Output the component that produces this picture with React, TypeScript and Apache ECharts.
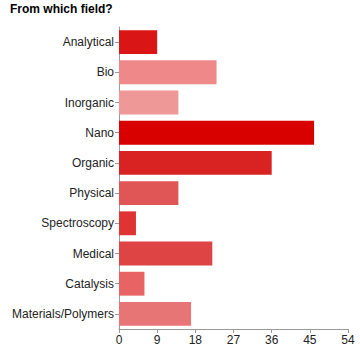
import React, { useEffect, useRef } from "react";
import * as echarts from "echarts";

const categories = ["Analytical", "Bio", "Inorganic", "Nano", "Organic", "Physical", "Spectroscopy", "Medical", "Catalysis", "Materials/Polymers"];
const values = [9, 23, 14, 46, 36, 14, 4, 22, 6, 17];
const colors = ["#d91515", "#ef8888", "#ef9898", "#d90000", "#d92323", "#e05656", "#e03333", "#df4444", "#e86464", "#e87575"];
const xTicks = [0, 9, 18, 27, 36, 45, 54];

export default function App() {
  const ref = useRef<HTMLDivElement>(null);
  useEffect(() => {
    const chart = echarts.init(ref.current!, null, { renderer: "svg" });
    chart.setOption({
      animation: false,
      title: {
        text: "From which field?",
        left: 10,
        top: 3,
        padding: 0,
        textStyle: { fontFamily: "Liberation Sans, Arial", fontSize: 12, fontWeight: "bold", color: "#000" },
      },
      grid: { left: 119, right: 12, top: 27, bottom: 23 },
      xAxis: {
        type: "value",
        min: xTicks[0],
        max: xTicks[xTicks.length - 1],
        interval: 9,
        splitLine: { show: false },
        axisLine: { show: true, lineStyle: { color: "#999" } },
        axisTick: { show: true, length: 4, lineStyle: { color: "#999" } },
        axisLabel: { color: "#222", fontFamily: "Liberation Sans, Arial", fontSize: 12, margin: 5 },
      },
      yAxis: {
        type: "category",
        inverse: true,
        data: categories,
        axisLine: { show: true, lineStyle: { color: "#999" } },
        axisTick: { show: true, alignWithLabel: true, length: 4, lineStyle: { color: "#999" } },
        axisLabel: { color: "#222", fontFamily: "Liberation Sans, Arial", fontSize: 12, margin: 5 },
      },
      series: [
        {
          type: "bar",
          barCategoryGap: "21%",
          data: values.map((v, i) => ({ value: v, itemStyle: { color: colors[i] } })),
        },
      ],
    });
    return () => chart.dispose();
  }, []);
  return <div ref={ref} style={{ position: "absolute", left: 0, top: 0, width: 360, height: 352 }} />;
}
